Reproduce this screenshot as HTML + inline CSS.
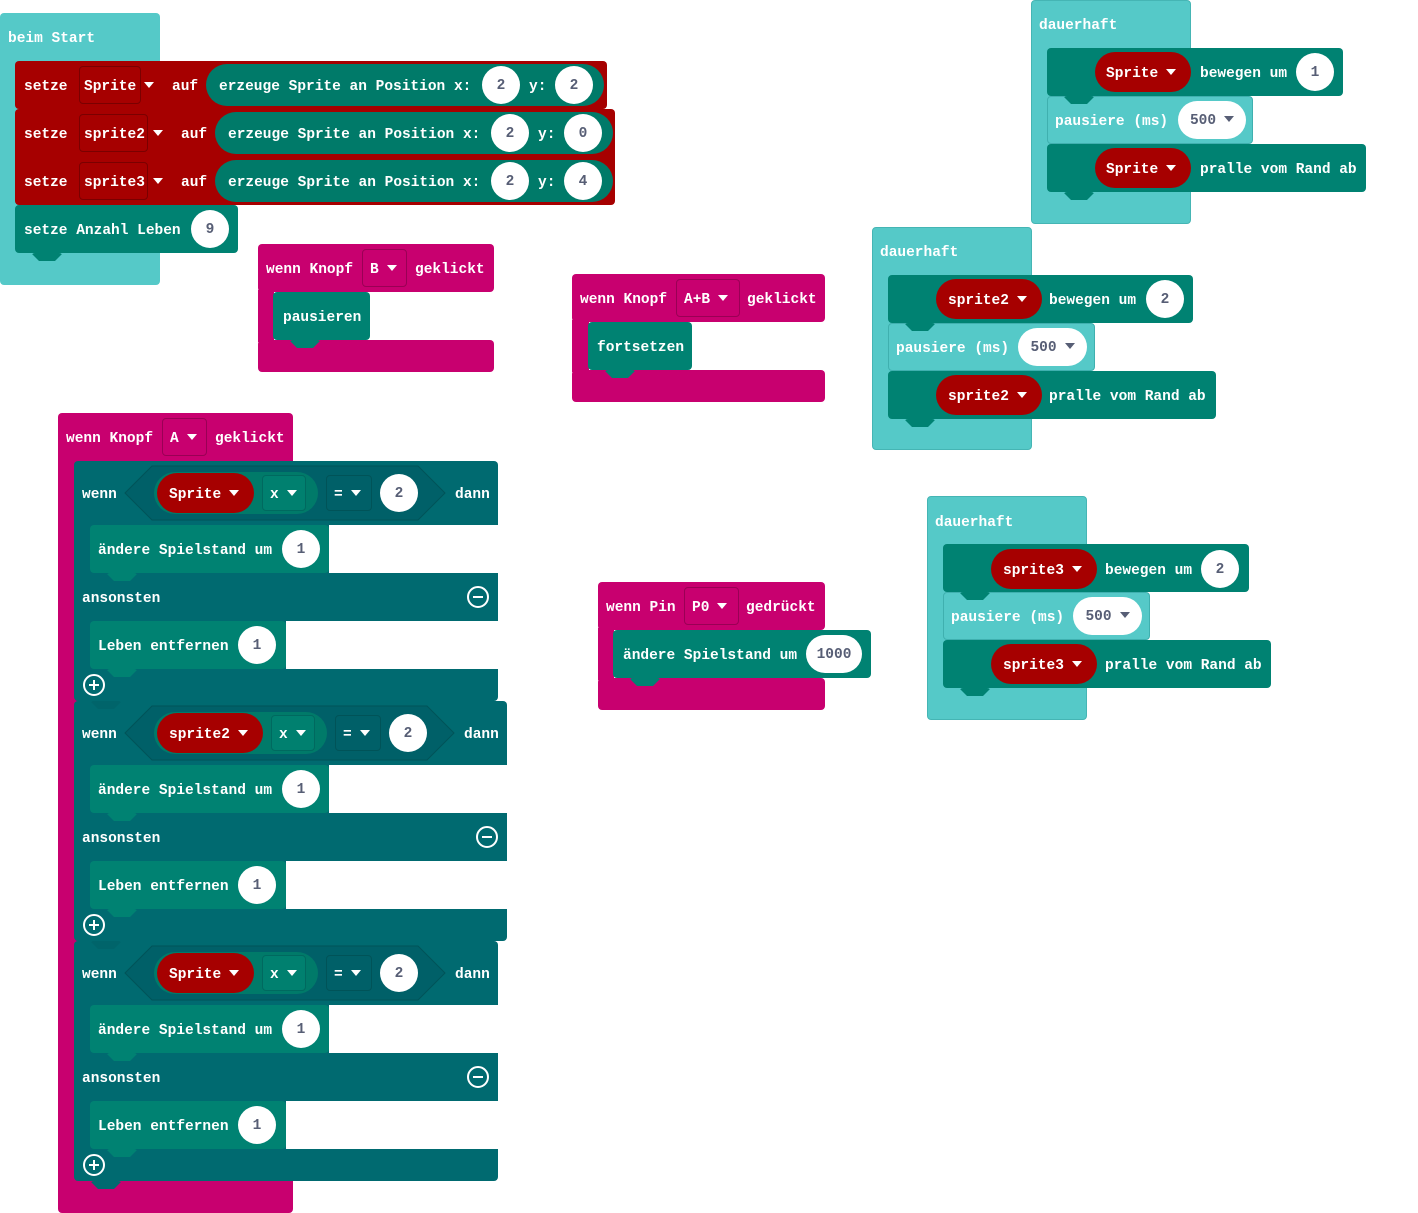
<!DOCTYPE html>
<html><head><meta charset="utf-8"><style>
body{margin:0;width:1418px;height:1213px;background:#fff;position:relative;overflow:hidden}
div,span{position:absolute;box-sizing:border-box}
.t{font:bold 14.5px/20px "Liberation Mono","DejaVu Sans Mono",monospace;color:#fff;white-space:pre;margin-top:2px}
.c{background:#fff;border-radius:19px;color:#575E75;font:bold 14.5px/40px "Liberation Mono",monospace;text-align:center;height:38px}
.cy{background:#55C9C8;border-radius:4px}
.rd{background:#A60000;border-radius:4px}
.tl{background:#008272;border-radius:4px}
.dk{background:#006A70;border-radius:4px}
.mg{background:#C8006F;border-radius:4px}
.rp{background:#A60000;border-radius:20px;height:40px}
.dd{border:1px solid #7a0000;border-radius:4px;height:38px}
.ddm{border:1px solid #9a0055;border-radius:4px;height:38px}
.ddt{border:1px solid #00695f;background:#00806f;border-radius:4px;height:36px}
.ddk{border:1px solid #005358;background:#006068;border-radius:4px;height:36px}
.tp{background:#007a69;border-radius:21px;height:42px}
i{display:inline-block;width:0;height:0;border-left:5px solid transparent;border-right:5px solid transparent;border-top:6px solid #fff;vertical-align:middle;margin-left:8px;margin-top:-3px}
i.g{border-top-color:#575E75}
.tab{width:32px;height:8px;clip-path:polygon(0 0,100% 0,75% 100%,25% 100%)}
.ic{width:22px;height:22px;border:2px solid #fff;border-radius:50%}
.ic b{position:absolute;left:4px;top:8px;width:10px;height:2px;background:#fff}
.ic u{position:absolute;left:8px;top:4px;width:2px;height:10px;background:#fff}
</style></head><body>

<!-- beim Start -->
<div class="cy" style="left:0;top:13px;width:160px;height:272px"></div>
<span class="t" style="left:8px;top:27px">beim Start</span>
<div class="rd" style="left:15px;top:61px;width:592px;height:48px"></div>
<div class="rd" style="left:15px;top:109px;width:600px;height:96px"></div>
<div class="tl" style="left:15px;top:205px;width:223px;height:48px"></div>
<div class="tab tl" style="left:31px;top:253px"></div>
<span class="t" style="left:24px;top:75px">setze</span>
<div class="dd" style="left:79px;top:66px;width:62px"></div>
<span class="t" style="left:84px;top:75px">Sprite<i></i></span>
<span class="t" style="left:172px;top:75px">auf</span>
<div class="tp" style="left:206px;top:64px;width:398px"></div>
<span class="t" style="left:219px;top:75px">erzeuge Sprite an Position x:</span>
<div class="c" style="left:482px;top:66px;width:38px">2</div>
<span class="t" style="left:529px;top:75px">y:</span>
<div class="c" style="left:555px;top:66px;width:38px">2</div>

<span class="t" style="left:24px;top:123px">setze</span>
<div class="dd" style="left:79px;top:114px;width:69px"></div>
<span class="t" style="left:84px;top:123px">sprite2<i></i></span>
<span class="t" style="left:181px;top:123px">auf</span>
<div class="tp" style="left:215px;top:112px;width:398px"></div>
<span class="t" style="left:228px;top:123px">erzeuge Sprite an Position x:</span>
<div class="c" style="left:491px;top:114px;width:38px">2</div>
<span class="t" style="left:538px;top:123px">y:</span>
<div class="c" style="left:564px;top:114px;width:38px">0</div>

<span class="t" style="left:24px;top:171px">setze</span>
<div class="dd" style="left:79px;top:162px;width:69px"></div>
<span class="t" style="left:84px;top:171px">sprite3<i></i></span>
<span class="t" style="left:181px;top:171px">auf</span>
<div class="tp" style="left:215px;top:160px;width:398px"></div>
<span class="t" style="left:228px;top:171px">erzeuge Sprite an Position x:</span>
<div class="c" style="left:491px;top:162px;width:38px">2</div>
<span class="t" style="left:538px;top:171px">y:</span>
<div class="c" style="left:564px;top:162px;width:38px">4</div>

<span class="t" style="left:24px;top:219px">setze Anzahl Leben</span>
<div class="c" style="left:191px;top:210px;width:38px">9</div>

<!-- wenn Knopf B -->
<div class="mg" style="left:258px;top:244px;width:236px;height:48px"></div>
<div class="mg" style="left:258px;top:290px;width:16px;height:52px;border-radius:0"></div>
<div class="mg" style="left:258px;top:340px;width:236px;height:32px"></div>
<span class="t" style="left:266px;top:258px">wenn Knopf</span>
<div class="ddm" style="left:362px;top:249px;width:45px"></div>
<span class="t" style="left:370px;top:258px">B<i></i></span>
<span class="t" style="left:415px;top:258px">geklickt</span>
<div class="tl" style="left:273px;top:292px;width:97px;height:48px"></div>
<div class="tab tl" style="left:289px;top:340px"></div>
<span class="t" style="left:283px;top:306px">pausieren</span>

<!-- wenn Knopf A+B -->
<div class="mg" style="left:572px;top:274px;width:253px;height:48px"></div>
<div class="mg" style="left:572px;top:320px;width:17px;height:52px;border-radius:0"></div>
<div class="mg" style="left:572px;top:370px;width:253px;height:32px"></div>
<span class="t" style="left:580px;top:288px">wenn Knopf</span>
<div class="ddm" style="left:676px;top:279px;width:64px"></div>
<span class="t" style="left:684px;top:288px">A+B<i></i></span>
<span class="t" style="left:747px;top:288px">geklickt</span>
<div class="tl" style="left:588px;top:322px;width:104px;height:48px"></div>
<div class="tab tl" style="left:604px;top:370px"></div>
<span class="t" style="left:597px;top:336px">fortsetzen</span>

<!-- wenn Pin P0 -->
<div class="mg" style="left:598px;top:582px;width:227px;height:48px"></div>
<div class="mg" style="left:598px;top:628px;width:16px;height:52px;border-radius:0"></div>
<div class="mg" style="left:598px;top:678px;width:227px;height:32px"></div>
<span class="t" style="left:606px;top:596px">wenn Pin</span>
<div class="ddm" style="left:684px;top:587px;width:55px"></div>
<span class="t" style="left:692px;top:596px">P0<i></i></span>
<span class="t" style="left:746px;top:596px">gedrückt</span>
<div class="tl" style="left:613px;top:630px;width:258px;height:48px"></div>
<div class="tab tl" style="left:629px;top:678px"></div>
<span class="t" style="left:623px;top:644px">ändere Spielstand um</span>
<div class="c" style="left:806px;top:635px;width:56px">1000</div>

<!-- dauerhaft 1 -->
<div class="cy" style="left:1031px;top:0;width:160px;height:224px;border:1px solid #45b5b4"></div>
<span class="t" style="left:1039px;top:14px">dauerhaft</span>
<div class="tl" style="left:1047px;top:48px;width:296px;height:48px"></div>
<div class="rp" style="left:1095px;top:52px;width:96px"></div>
<span class="t" style="left:1106px;top:62px">Sprite<i></i></span>
<span class="t" style="left:1200px;top:62px">bewegen um</span>
<div class="c" style="left:1296px;top:53px;width:38px">1</div>
<div class="cy" style="left:1047px;top:96px;width:206px;height:48px;border:1px solid #3fb0af"></div>
<div class="tab tl" style="left:1063px;top:96px"></div>
<span class="t" style="left:1055px;top:110px">pausiere (ms)</span>
<div class="c" style="left:1178px;top:101px;width:68px">500<i class="g"></i></div>
<div class="tl" style="left:1047px;top:144px;width:319px;height:48px"></div>
<div class="rp" style="left:1095px;top:148px;width:96px"></div>
<span class="t" style="left:1106px;top:158px">Sprite<i></i></span>
<span class="t" style="left:1200px;top:158px">pralle vom Rand ab</span>
<div class="tab tl" style="left:1063px;top:192px"></div>

<!-- dauerhaft 2 -->
<div class="cy" style="left:872px;top:227px;width:160px;height:223px;border:1px solid #45b5b4"></div>
<span class="t" style="left:880px;top:241px">dauerhaft</span>
<div class="tl" style="left:888px;top:275px;width:305px;height:48px"></div>
<div class="rp" style="left:936px;top:279px;width:106px"></div>
<span class="t" style="left:948px;top:289px">sprite2<i></i></span>
<span class="t" style="left:1049px;top:289px">bewegen um</span>
<div class="c" style="left:1146px;top:280px;width:38px">2</div>
<div class="cy" style="left:888px;top:323px;width:207px;height:48px;border:1px solid #3fb0af"></div>
<div class="tab tl" style="left:904px;top:323px"></div>
<span class="t" style="left:896px;top:337px">pausiere (ms)</span>
<div class="c" style="left:1018px;top:328px;width:69px">500<i class="g"></i></div>
<div class="tl" style="left:888px;top:371px;width:328px;height:48px"></div>
<div class="rp" style="left:936px;top:375px;width:106px"></div>
<span class="t" style="left:948px;top:385px">sprite2<i></i></span>
<span class="t" style="left:1049px;top:385px">pralle vom Rand ab</span>
<div class="tab tl" style="left:904px;top:419px"></div>

<!-- dauerhaft 3 -->
<div class="cy" style="left:927px;top:496px;width:160px;height:224px;border:1px solid #45b5b4"></div>
<span class="t" style="left:935px;top:511px">dauerhaft</span>
<div class="tl" style="left:943px;top:544px;width:306px;height:48px"></div>
<div class="rp" style="left:991px;top:549px;width:106px"></div>
<span class="t" style="left:1003px;top:559px">sprite3<i></i></span>
<span class="t" style="left:1105px;top:559px">bewegen um</span>
<div class="c" style="left:1201px;top:550px;width:38px">2</div>
<div class="cy" style="left:943px;top:592px;width:207px;height:48px;border:1px solid #3fb0af"></div>
<div class="tab tl" style="left:959px;top:592px"></div>
<span class="t" style="left:951px;top:606px">pausiere (ms)</span>
<div class="c" style="left:1073px;top:597px;width:69px">500<i class="g"></i></div>
<div class="tl" style="left:943px;top:640px;width:328px;height:48px"></div>
<div class="rp" style="left:991px;top:644px;width:106px"></div>
<span class="t" style="left:1003px;top:654px">sprite3<i></i></span>
<span class="t" style="left:1105px;top:654px">pralle vom Rand ab</span>
<div class="tab tl" style="left:959px;top:688px"></div>

<!-- wenn Knopf A -->
<div class="mg" style="left:58px;top:413px;width:235px;height:800px"></div>
<span class="t" style="left:66px;top:427px">wenn Knopf</span>
<div class="ddm" style="left:162px;top:418px;width:45px"></div>
<span class="t" style="left:170px;top:427px">A<i></i></span>
<span class="t" style="left:215px;top:427px">geklickt</span>

<div class="dk" style="left:74px;top:461px;width:424px;height:240px"></div>
<div class="dk" style="left:74px;top:701px;width:433px;height:240px"></div>
<div class="dk" style="left:74px;top:941px;width:424px;height:240px"></div>
<div class="tab dk" style="left:90px;top:1181px"></div>
<div style="left:329px;top:525px;width:170px;height:48px;background:#fff"></div>
<div style="left:286px;top:621px;width:213px;height:48px;background:#fff"></div>
<div style="left:329px;top:765px;width:179px;height:48px;background:#fff"></div>
<div style="left:286px;top:861px;width:222px;height:48px;background:#fff"></div>
<div style="left:329px;top:1005px;width:170px;height:48px;background:#fff"></div>
<div style="left:286px;top:1101px;width:213px;height:48px;background:#fff"></div>

<svg style="position:absolute;left:0;top:0" width="1418" height="1213">
<polygon points="125,493 152,466 418,466 445,493 418,520 152,520" fill="#006068" stroke="#005358"/>
<polygon points="125,733 152,706 427,706 454,733 427,760 152,760" fill="#006068" stroke="#005358"/>
<polygon points="125,973 152,946 418,946 445,973 418,1000 152,1000" fill="#006068" stroke="#005358"/>
</svg>

<span class="t" style="left:82px;top:483px">wenn</span>
<div class="tp" style="left:154px;top:472px;width:164px"></div>
<div class="rp" style="left:157px;top:473px;width:97px"></div>
<span class="t" style="left:169px;top:483px">Sprite<i></i></span>
<div class="ddt" style="left:262px;top:475px;width:44px"></div>
<span class="t" style="left:270px;top:483px">x<i></i></span>
<div class="ddk" style="left:326px;top:475px;width:46px"></div>
<span class="t" style="left:334px;top:483px">=<i></i></span>
<div class="c" style="left:380px;top:474px;width:38px">2</div>
<span class="t" style="left:455px;top:483px">dann</span>
<div class="tl" style="left:90px;top:525px;width:239px;height:48px"></div>
<div class="tab tl" style="left:106px;top:573px"></div>
<span class="t" style="left:98px;top:539px">ändere Spielstand um</span>
<div class="c" style="left:282px;top:530px;width:38px">1</div>
<span class="t" style="left:82px;top:587px">ansonsten</span>
<div class="ic" style="left:467px;top:586px"><b></b></div>
<div class="tl" style="left:90px;top:621px;width:196px;height:48px"></div>
<div class="tab tl" style="left:106px;top:669px"></div>
<span class="t" style="left:98px;top:635px">Leben entfernen</span>
<div class="c" style="left:238px;top:626px;width:38px">1</div>
<div class="ic" style="left:83px;top:674px"><b></b><u></u></div>
<div class="tab dk" style="left:90px;top:701px;background:#00646a"></div>

<span class="t" style="left:82px;top:723px">wenn</span>
<div class="tp" style="left:154px;top:712px;width:173px"></div>
<div class="rp" style="left:157px;top:713px;width:106px"></div>
<span class="t" style="left:169px;top:723px">sprite2<i></i></span>
<div class="ddt" style="left:271px;top:715px;width:44px"></div>
<span class="t" style="left:279px;top:723px">x<i></i></span>
<div class="ddk" style="left:335px;top:715px;width:46px"></div>
<span class="t" style="left:343px;top:723px">=<i></i></span>
<div class="c" style="left:389px;top:714px;width:38px">2</div>
<span class="t" style="left:464px;top:723px">dann</span>
<div class="tl" style="left:90px;top:765px;width:239px;height:48px"></div>
<div class="tab tl" style="left:106px;top:813px"></div>
<span class="t" style="left:98px;top:779px">ändere Spielstand um</span>
<div class="c" style="left:282px;top:770px;width:38px">1</div>
<span class="t" style="left:82px;top:827px">ansonsten</span>
<div class="ic" style="left:476px;top:826px"><b></b></div>
<div class="tl" style="left:90px;top:861px;width:196px;height:48px"></div>
<div class="tab tl" style="left:106px;top:909px"></div>
<span class="t" style="left:98px;top:875px">Leben entfernen</span>
<div class="c" style="left:238px;top:866px;width:38px">1</div>
<div class="ic" style="left:83px;top:914px"><b></b><u></u></div>
<div class="tab dk" style="left:90px;top:941px;background:#00646a"></div>

<span class="t" style="left:82px;top:963px">wenn</span>
<div class="tp" style="left:154px;top:952px;width:164px"></div>
<div class="rp" style="left:157px;top:953px;width:97px"></div>
<span class="t" style="left:169px;top:963px">Sprite<i></i></span>
<div class="ddt" style="left:262px;top:955px;width:44px"></div>
<span class="t" style="left:270px;top:963px">x<i></i></span>
<div class="ddk" style="left:326px;top:955px;width:46px"></div>
<span class="t" style="left:334px;top:963px">=<i></i></span>
<div class="c" style="left:380px;top:954px;width:38px">2</div>
<span class="t" style="left:455px;top:963px">dann</span>
<div class="tl" style="left:90px;top:1005px;width:239px;height:48px"></div>
<div class="tab tl" style="left:106px;top:1053px"></div>
<span class="t" style="left:98px;top:1019px">ändere Spielstand um</span>
<div class="c" style="left:282px;top:1010px;width:38px">1</div>
<span class="t" style="left:82px;top:1067px">ansonsten</span>
<div class="ic" style="left:467px;top:1066px"><b></b></div>
<div class="tl" style="left:90px;top:1101px;width:196px;height:48px"></div>
<div class="tab tl" style="left:106px;top:1149px"></div>
<span class="t" style="left:98px;top:1115px">Leben entfernen</span>
<div class="c" style="left:238px;top:1106px;width:38px">1</div>
<div class="ic" style="left:83px;top:1154px"><b></b><u></u></div>

</body></html>
